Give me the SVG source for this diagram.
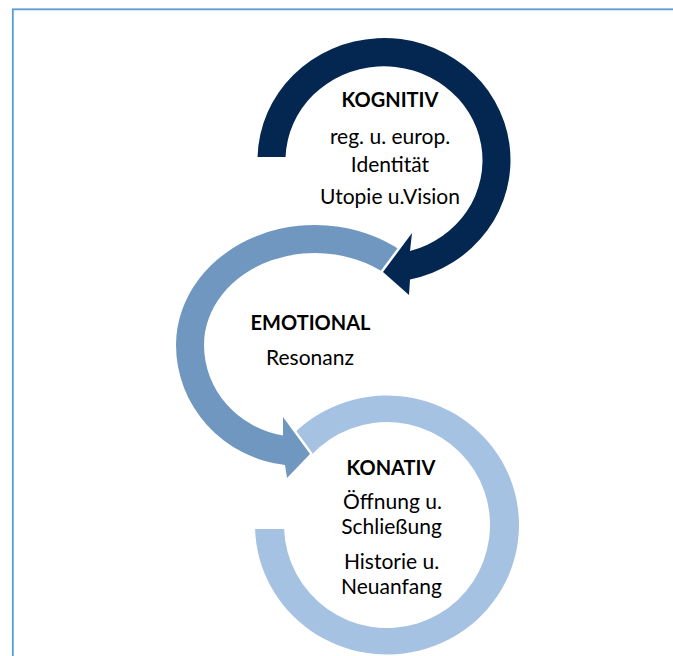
<svg xmlns="http://www.w3.org/2000/svg" width="673" height="656" viewBox="0 0 673 656">
  <style>
    .ring { stroke: #ffffff; stroke-width: 5; stroke-linejoin: round; paint-order: stroke fill; }
    .dark { fill: #032750; }
    .mid { fill: #6f97c0; }
    .light { fill: #a6c2e3; }
    text { font-family: Lato, "Open Sans", "Liberation Sans", sans-serif; font-size: 21px; fill: #000000; text-anchor: middle; }
    .title { font-weight: bold; font-size: 20px; }
  </style>

  <!-- page frame -->
  <rect x="12.8" y="9.3" width="700" height="700" fill="#ffffff" stroke="#5b9bd5" stroke-width="1.8"/>

  <!-- cycle arrows, drawn back to front so each arrowhead sits over the next band -->
  <g id="connectors">
    <path id="arrow-konativ" class="ring light"
          d="M 255.06,529 A 132 129.5 0 1 0 288.9,438.35 L 311.7,454.75 A 103 103 0 1 1 284.08,529 Z"/>
    <path id="arrow-emotional" class="ring mid"
          d="M 410,257.4 A 139 120 0 0 0 176,345 A 124 121 0 0 0 285,465.1 L 287,478 L 310,454 L 283,417 L 283,435.5 A 96 92 0 0 1 204,345 A 111 92 0 0 1 392,278.7 Z"/>
    <path id="arrow-kognitiv" class="ring dark"
          d="M 257.54,157 A 126.5 122 0 1 1 410,279.4 L 409,295 L 383,272 L 412,233 L 410,251 A 98.5 94 0 1 0 285.55,157 Z"/>
  </g>

  <g id="node-kognitiv">
    <text class="title" x="390" y="107">KOGNITIV</text>
    <text x="390" y="144">reg. u. europ.</text>
    <text x="390" y="171.5">Identität</text>
    <text x="390" y="203.5">Utopie u.Vision</text>
  </g>

  <g id="node-emotional">
    <text class="title" x="310.5" y="330">EMOTIONAL</text>
    <text x="310" y="365">Resonanz</text>
  </g>

  <g id="node-konativ">
    <text class="title" x="391" y="475">KONATIV</text>
    <text x="392.5" y="508.5">Öffnung u.</text>
    <text x="391.5" y="534">Schließung</text>
    <text x="391.5" y="568.5">Historie u.</text>
    <text x="391.5" y="594">Neuanfang</text>
  </g>
</svg>
